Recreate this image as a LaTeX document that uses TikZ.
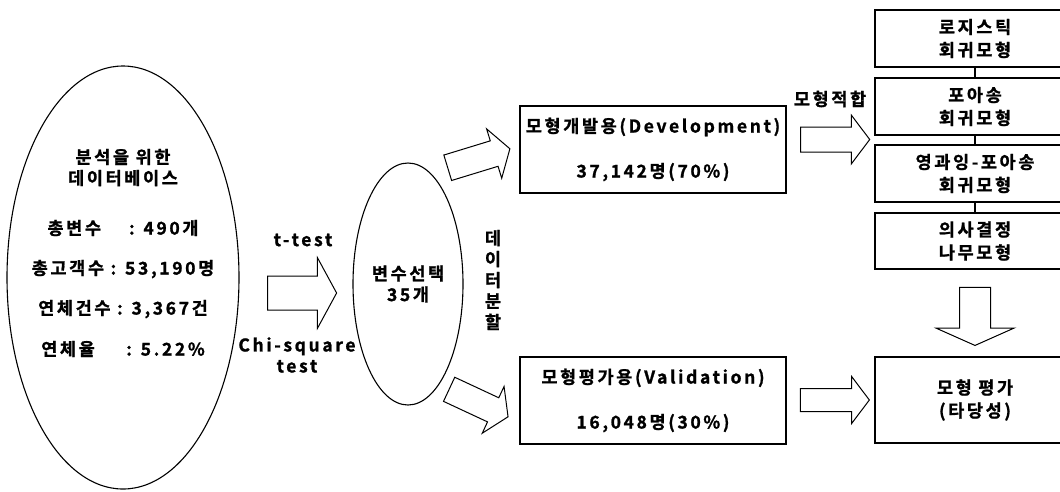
\documentclass[tikz,border=0pt]{standalone}
\usepackage{fontspec}
\setmainfont{Noto Sans CJK KR}[UprightFont=* Bold, FakeBold=1.2, LetterSpace=15]
\usetikzlibrary{shapes.geometric,shapes.arrows}

\begin{document}
\begin{tikzpicture}[x=1pt,y=-1pt,line width=1.1pt,
  font=\fontsize{17.5}{21}\selectfont,
  box/.style={draw,rectangle,align=center,inner sep=0pt},
  oval/.style={draw,ellipse,inner sep=0pt,align=center},
  fat/.style={draw,single arrow,inner xsep=0pt,line width=1pt,single arrow head indent=0pt}]
\useasboundingbox (0,0) rectangle (1060,491);
\clip (0,0) rectangle (1060,491);

\node[oval,minimum width=232pt,minimum height=423pt] (db) at (123,277.5) {};
\node[align=center] (dbtxt) at (123,253) {분석을 위한\\데이터베이스\\[29pt]총변수\hspace{1.6em}: 490개\\[19pt]총고객수 : 53,190명\\[19pt]연체건수 : 3,367건\\[20pt]연체율\hspace{1.8em}: 5.22\%};

\node (ttest) at (303,240) {t-test};
\node[align=center] (chisq) at (297,355) {Chi-square\\test};
\node[fat,minimum height=69pt,inner ysep=16.5pt,single arrow head extend=18.5pt,single arrow tip angle=123] (a1) at (297.5,293) {};

\node[oval,minimum width=110pt,minimum height=242pt] (sel) at (408,284) {변수선택\\35개};
\node[align=center] (split) at (493,280) {데\\이\\터\\분\\할};

\node[fat,minimum height=65pt,inner ysep=12.8pt,single arrow head extend=12.5pt,single arrow tip angle=115,rotate=17] (a2) at (474.75,159.5) {};
\node[fat,minimum height=65pt,inner ysep=12.8pt,single arrow head extend=12.5pt,single arrow tip angle=115,rotate=-25] (a3) at (474.75,401.25) {};

\node[box,minimum width=266pt,minimum height=87pt] (dev) at (653,149.5) {모형개발용(Development)\\[24pt]37,142명(70\%)};
\node[box,minimum width=266pt,minimum height=87pt] (val) at (653,400.5) {모형평가용(Validation)\\[24pt]16,048명(30\%)};

\node (fit) at (830,99) {모형적합};
\node[fat,minimum height=69pt,inner ysep=12pt,single arrow head extend=12pt,single arrow tip angle=106] (a4) at (830.5,139.5) {};
\node[fat,minimum height=69pt,inner ysep=11pt,single arrow head extend=12pt,single arrow tip angle=106] (a5) at (830.5,400) {};

% models
\node[box,minimum width=200pt,minimum height=57pt,font=\fontsize{17.5}{23}\selectfont] (m1) at (975,38.5) {로지스틱\\회귀모형};
\node[box,minimum width=200pt,minimum height=57pt,font=\fontsize{17.5}{23}\selectfont] (m2) at (975,106.5) {포아송\\회귀모형};
\node[box,minimum width=200pt,minimum height=57pt,font=\fontsize{17.5}{23}\selectfont] (m3) at (975,173.5) {영과잉-포아송\\회귀모형};
\node[box,minimum width=200pt,minimum height=56pt,font=\fontsize{17.5}{23}\selectfont] (m4) at (975,241) {의사결정\\나무모형};
\draw (m1) -- (m2);
\draw (m2) -- (m3);
\draw (m3) -- (m4);

\node[fat,minimum height=58pt,inner ysep=15pt,single arrow head extend=23.5pt,single arrow tip angle=132,rotate=-90] (a6) at (975,313) {};
\node[box,minimum width=200pt,minimum height=86pt,font=\fontsize{17.5}{23}\selectfont] (eval) at (975,400) {모형 평가\\(타당성)};
\end{tikzpicture}
\end{document}
